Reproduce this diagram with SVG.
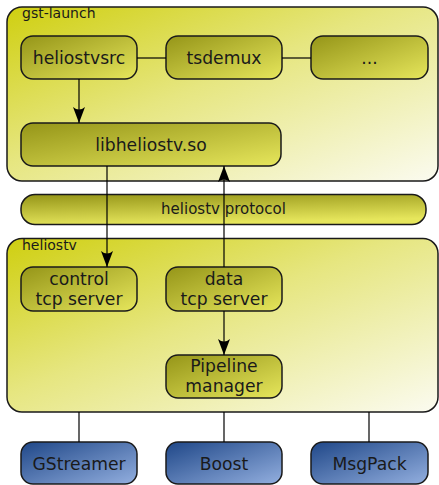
<svg xmlns="http://www.w3.org/2000/svg" width="439" height="485" viewBox="0 0 439 485">
<defs>
<linearGradient id="gOuter" x1="0" y1="0" x2="1" y2="1">
<stop offset="0" stop-color="#cfcf10"/>
<stop offset="0.45" stop-color="#e6e680"/>
<stop offset="1" stop-color="#fbfbf0"/>
</linearGradient>
<linearGradient id="gNode" x1="0" y1="0" x2="1" y2="1">
<stop offset="0" stop-color="#959518"/>
<stop offset="1" stop-color="#e6e65c"/>
</linearGradient>
<linearGradient id="gWide" x1="0" y1="0" x2="0.3" y2="1">
<stop offset="0" stop-color="#959518"/>
<stop offset="1" stop-color="#e6e65c"/>
</linearGradient>
<linearGradient id="gBlue" x1="0" y1="0" x2="1" y2="1">
<stop offset="0" stop-color="#1f4788"/>
<stop offset="1" stop-color="#93afdf"/>
</linearGradient>
<marker id="arr" markerWidth="18" markerHeight="14" viewBox="-17 -7 18 14" refX="0" refY="0" orient="auto" markerUnits="userSpaceOnUse">
<path d="M0,0 L-16,-6 Q-11,0 -16,6 Z" fill="#000"/>
</marker>
<style>
.box{stroke:#1a1a1a;stroke-width:1.5}
.outer{fill:url(#gOuter)}
.node{fill:url(#gNode)}
.wide{fill:url(#gWide)}
.blue{fill:url(#gBlue)}
text{font-family:"DejaVu Sans",Verdana,sans-serif;fill:#1a1a1a}
.t{font-size:17.2px;text-anchor:middle}
.c{font-size:14px}
.p{font-size:15px;text-anchor:middle}
.ln{stroke:#000;stroke-width:1.2;fill:none}
</style>
</defs>

<g id="gst-launch">
<rect class="box outer" x="7" y="7" width="431" height="174" rx="15"/>
<text class="c" x="22" y="18">gst-launch</text>
</g>
<g id="heliostv">
<rect class="box outer" x="7" y="238.5" width="431" height="173.5" rx="15"/>
<text class="c" x="22" y="250">heliostv</text>
</g>

<g id="heliostvsrc">
<rect class="box node" x="21" y="36" width="116" height="43" rx="12"/>
<text class="t" x="79" y="64">heliostvsrc</text>
</g>
<g id="tsdemux">
<rect class="box node" x="166" y="36" width="116" height="43" rx="12"/>
<text class="t" x="224" y="64">tsdemux</text>
</g>
<g id="more">
<rect class="box node" x="311" y="36" width="117" height="43" rx="12"/>
<text class="t" x="369.5" y="64">...</text>
</g>
<g id="libheliostv">
<rect class="box node" x="21" y="123" width="260" height="43" rx="12"/>
<text class="t" x="151" y="151">libheliostv.so</text>
</g>
<g id="protocol">
<rect class="box wide" x="21" y="194.5" width="405" height="30" rx="14"/>
<text class="p" x="223.5" y="214">heliostv protocol</text>
</g>
<g id="control">
<rect class="box node" x="21" y="267" width="116" height="44" rx="12"/>
<text class="t" x="79" y="285">control</text>
<text class="t" x="79" y="305">tcp server</text>
</g>
<g id="data">
<rect class="box node" x="166" y="267" width="116" height="44" rx="12"/>
<text class="t" x="224" y="285">data</text>
<text class="t" x="224" y="305">tcp server</text>
</g>
<g id="pipeline">
<rect class="box node" x="166" y="355" width="116" height="43" rx="12"/>
<text class="t" x="224" y="372">Pipeline</text>
<text class="t" x="224" y="392">manager</text>
</g>
<g id="gstreamer">
<rect class="box blue" x="21" y="442" width="116" height="42" rx="12"/>
<text class="t" x="79" y="470">GStreamer</text>
</g>
<g id="boost">
<rect class="box blue" x="166" y="442" width="116" height="42" rx="12"/>
<text class="t" x="224" y="470">Boost</text>
</g>
<g id="msgpack">
<rect class="box blue" x="311" y="442" width="117" height="42" rx="12"/>
<text class="t" x="369.5" y="470">MsgPack</text>
</g>

<g id="connectors">
<line class="ln" x1="137" y1="58" x2="166" y2="58"/>
<line class="ln" x1="282" y1="58" x2="311" y2="58"/>
<line class="ln" x1="79" y1="79" x2="79" y2="123" marker-end="url(#arr)"/>
<line class="ln" x1="107" y1="166" x2="107" y2="267" marker-end="url(#arr)"/>
<line class="ln" x1="224" y1="267" x2="224" y2="166" marker-end="url(#arr)"/>
<line class="ln" x1="224" y1="311" x2="224" y2="355" marker-end="url(#arr)"/>
<line class="ln" x1="79" y1="412" x2="79" y2="442"/>
<line class="ln" x1="224" y1="412" x2="224" y2="442"/>
<line class="ln" x1="369" y1="412" x2="369" y2="442"/>
</g>
</svg>
